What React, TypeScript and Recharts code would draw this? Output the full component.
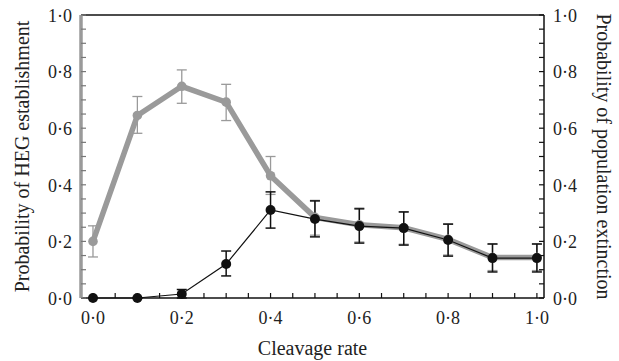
import React from "react";
import {
  ComposedChart,
  Line,
  XAxis,
  YAxis,
  ErrorBar,
  ReferenceLine,
} from "recharts";

// cleavage rates on the x axis
const rates = [0, 0.1, 0.2, 0.3, 0.4, 0.5, 0.6, 0.7, 0.8, 0.9, 1.0];

// probability of HEG establishment (grey series, left axis)
const hegEst = [0.2, 0.645, 0.748, 0.692, 0.432, 0.285, 0.259, 0.248, 0.207, 0.143, 0.143];
const hegLow = [0.145, 0.582, 0.688, 0.627, 0.366, 0.222, 0.198, 0.19, 0.152, 0.097, 0.097];
const hegHigh = [0.255, 0.712, 0.806, 0.755, 0.5, 0.345, 0.318, 0.305, 0.262, 0.19, 0.19];

// probability of population extinction (black series, right axis)
const extinction = [0, 0, 0.014, 0.12, 0.311, 0.279, 0.254, 0.247, 0.205, 0.141, 0.141];
const extLow = [0, 0, 0, 0.078, 0.247, 0.216, 0.194, 0.187, 0.148, 0.092, 0.092];
const extHigh = [0, 0, 0.03, 0.166, 0.375, 0.343, 0.315, 0.304, 0.261, 0.191, 0.191];

const minorTicks = [
  0, 0.05, 0.1, 0.15, 0.2, 0.25, 0.3, 0.35, 0.4, 0.45, 0.5,
  0.55, 0.6, 0.65, 0.7, 0.75, 0.8, 0.85, 0.9, 0.95, 1.0,
];
const majorTicks = [0, 0.2, 0.4, 0.6, 0.8, 1.0];

const FONT = "'Liberation Serif', 'DejaVu Serif', serif";
const GREY = "#9a9a9a";
const TICK_FS = 18;
const TITLE_FS = 20;

const data = rates.map((r, i) => ({
  rate: r,
  heg: hegEst[i],
  hegErr: [hegEst[i] - hegLow[i], hegHigh[i] - hegEst[i]],
  ext: extinction[i],
  extErr: [extinction[i] - extLow[i], extHigh[i] - extinction[i]],
}));

const fmt = (v: number) => v.toFixed(1).replace(".", "\u00b7");
const isMajor = (v: number) => majorTicks.some((m) => Math.abs(m - v) < 1e-6);

function LeftTick({ x, y, payload }: any) {
  const v = payload.value;
  return (
    <g>
      <line x1={x} x2={x + 5} y1={y} y2={y} stroke="#777" strokeWidth={1.2} />
      {isMajor(v) && (
        <text x={x - 9} y={y} dy="0.38em" textAnchor="end" fontSize={TICK_FS} fontFamily={FONT} fill="#222">
          {fmt(v)}
        </text>
      )}
    </g>
  );
}

function RightTick({ x, y, payload }: any) {
  const v = payload.value;
  return (
    <g>
      <line x1={x} x2={x - 5} y1={y} y2={y} stroke="#111" strokeWidth={1.2} />
      {isMajor(v) && (
        <text x={x + 9} y={y} dy="0.38em" textAnchor="start" fontSize={TICK_FS} fontFamily={FONT} fill="#222">
          {fmt(v)}
        </text>
      )}
    </g>
  );
}

function BottomTick({ x, y, payload }: any) {
  const v = payload.value;
  return (
    <g>
      <line x1={x} x2={x} y1={y} y2={y - 5} stroke="#111" strokeWidth={1.2} />
      {isMajor(v) && (
        <text x={x} y={y + 26} textAnchor="middle" fontSize={TICK_FS} fontFamily={FONT} fill="#222">
          {fmt(v)}
        </text>
      )}
    </g>
  );
}

export default function App() {
  return (
    <div style={{ position: "absolute", left: 0, top: 0, width: 619, height: 361, background: "#fff" }}>
      <ComposedChart
        width={619}
        height={361}
        data={data}
        margin={{ top: 15, right: 0, bottom: 0, left: 0 }}
      >
        <XAxis
          dataKey="rate"
          type="number"
          domain={[-0.027, 1.016]}
          allowDataOverflow
          ticks={minorTicks}
          interval={0}
          tickSize={0}
          tickMargin={0}
          tickLine={false}
          tick={<BottomTick />}
          axisLine={{ stroke: "#111", strokeWidth: 1.5 }}
          height={63}
          label={{
            content: ({ viewBox }: any) => (
              <text
                x={viewBox.x + viewBox.width / 2}
                y={viewBox.y + 57}
                textAnchor="middle"
                fontSize={TITLE_FS}
                fontFamily={FONT}
                fill="#222"
              >
                Cleavage rate
              </text>
            ),
          }}
        />
        <YAxis
          yAxisId="left"
          type="number"
          domain={[0, 1]}
          ticks={minorTicks}
          interval={0}
          tickSize={0}
          tickMargin={0}
          tickLine={false}
          tick={<LeftTick />}
          axisLine={{ stroke: GREY, strokeWidth: 3.5 }}
          width={81}
          label={{
            content: ({ viewBox }: any) => {
              const cx = viewBox.x + 22;
              const cy = viewBox.y + viewBox.height / 2;
              return (
                <text
                  x={cx}
                  y={cy}
                  transform={`rotate(-90 ${cx} ${cy})`}
                  textAnchor="middle"
                  dy="0.35em"
                  fontSize={TITLE_FS}
                  fontFamily={FONT}
                  fill="#222"
                >
                  Probability of HEG establishment
                </text>
              );
            },
          }}
        />
        <YAxis
          yAxisId="right"
          orientation="right"
          type="number"
          domain={[0, 1]}
          ticks={minorTicks}
          interval={0}
          tickSize={0}
          tickMargin={0}
          tickLine={false}
          tick={<RightTick />}
          axisLine={{ stroke: "#111", strokeWidth: 1.5 }}
          width={75}
          label={{
            content: ({ viewBox }: any) => {
              const cx = viewBox.x + 60;
              const cy = viewBox.y + viewBox.height / 2;
              return (
                <text
                  x={cx}
                  y={cy}
                  transform={`rotate(90 ${cx} ${cy})`}
                  textAnchor="middle"
                  dy="0.35em"
                  fontSize={TITLE_FS}
                  fontFamily={FONT}
                  fill="#222"
                >
                  Probability of population extinction
                </text>
              );
            },
          }}
        />
        <ReferenceLine yAxisId="left" y={1} stroke="#111" strokeWidth={1.5} />

        <Line
          yAxisId="left"
          dataKey="heg"
          type="linear"
          stroke={GREY}
          strokeWidth={5.5}
          dot={{ r: 4.8, fill: GREY, stroke: GREY, strokeWidth: 0 }}
          isAnimationActive={false}
        >
          <ErrorBar dataKey="hegErr" width={5} stroke={GREY} strokeWidth={1.3} direction="y" />
        </Line>
        <Line
          yAxisId="right"
          dataKey="ext"
          type="linear"
          stroke="#111"
          strokeWidth={1.2}
          dot={{ r: 5, fill: "#111", stroke: "#111", strokeWidth: 0 }}
          isAnimationActive={false}
        >
          <ErrorBar dataKey="extErr" width={5} stroke="#111" strokeWidth={1.5} direction="y" />
        </Line>
      </ComposedChart>
    </div>
  );
}
